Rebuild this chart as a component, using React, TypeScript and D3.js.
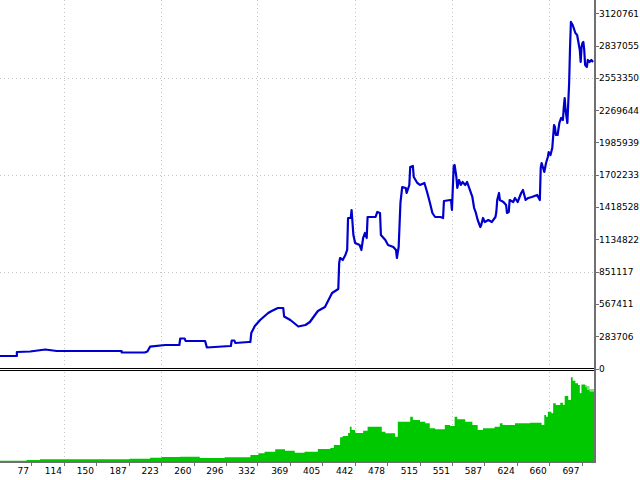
import React from "react";
import * as d3 from "d3";

// Equity curve: trade number -> equity
const tradeNo = [
  42, 61, 61, 76, 93, 106, 179, 179, 205, 208, 211, 228, 244, 245, 250, 251, 273, 275, 301, 302, 303, 306, 307, 322, 324,
  325, 329, 335, 344, 348, 355, 361, 362, 369, 378, 386, 391, 400, 408, 416, 423, 424, 425, 428, 431,
  433, 434, 437, 438, 440, 442, 447, 449, 451, 453, 455, 456, 465, 467, 470, 471, 476, 479, 485, 488,
  489, 491, 493, 495, 499, 500, 503, 504, 507, 508, 512, 515, 520, 523, 526, 529, 532, 538, 541, 542,
  549, 550, 551, 553, 554, 556, 557, 559, 561, 563, 566, 568, 570, 574, 576, 578, 580, 583, 584, 586,
  588, 592, 596, 600, 601, 602, 604, 605, 609, 612, 613, 615, 616, 620, 622, 625, 629, 631, 634, 637,
  641, 647, 650, 651, 652, 655, 657, 659, 660, 662, 664, 666, 667, 668, 670, 672, 674, 676, 677, 678,
  679, 681, 682, 683, 684, 685, 687, 690, 692, 693, 695, 696, 697, 698, 699, 700, 701, 703, 704, 706,
  708, 710,
];
const equity = [
  109800, 109800, 144900, 149300, 166900, 153700, 153700, 140500, 140500, 149300, 191500, 206400, 206400, 263500, 263500, 241600, 241600, 184500, 197600, 197600, 246000, 246000, 224000, 232800, 232800,
  311800, 373300, 426000, 487500, 505100, 531400, 531400, 456800, 426000, 368900, 382100, 408500, 505100, 540200, 663200, 698300, 926700, 970600, 953100, 997000,
  1040900, 1322000, 1322000, 1392300, 1172700, 1102400, 1084800, 1040900, 1146300, 1190200, 1146300, 1330800, 1330800, 1374700, 1365900, 1172700, 1128700, 1084800, 1067300, 1040900,
  970600, 1067300, 1453800, 1594300, 1585500, 1541600, 1611900, 1770000, 1778800, 1682100, 1629400, 1611900, 1629400, 1550400, 1462500, 1365900, 1330800, 1330800, 1322000, 1471300,
  1480100, 1480100, 1392300, 1778800, 1787500, 1682100, 1585500, 1655800, 1611900, 1638200, 1611900, 1638200, 1594300, 1506500, 1409800, 1365900, 1304400, 1242900, 1260500, 1322000,
  1286900, 1304400, 1286900, 1330800, 1374700, 1480100, 1541600, 1480100, 1462500, 1436100, 1365900, 1374700, 1480100, 1462500, 1497700, 1462500, 1541600, 1567900, 1480100, 1497700,
  1506500, 1524000, 1480100, 1761200, 1805100, 1726100, 1805100, 1857800, 1901700, 1875400, 1936900, 2138900, 2121300, 2051100, 2051100, 2156500, 2200400, 2182800, 2297000, 2376100,
  2270700, 2156500, 2332200, 2507800, 2815300, 3043700, 3017300, 2947000, 2929500, 2885500, 2797700, 2692300, 2824100, 2859200, 2868000, 2797700, 2665900, 2648400, 2709900, 2692300,
  2709900, 2692300,
];

// Lower panel (histogram) : trade number -> value
const loadTrade = [
  42, 72, 87, 115, 188, 211, 224, 245, 267, 295, 324, 333, 340, 352, 363, 374, 385, 400, 414, 418,
  425, 428, 434, 436, 438, 442, 451, 456, 472, 476, 487, 490, 504, 507, 515, 521, 526, 532, 543, 549,
  554, 557, 566, 574, 580, 586, 599, 605, 608, 622, 639, 652, 655, 657, 659, 663, 665, 668, 673, 676,
  678, 682, 685, 687, 690, 693, 695, 697, 701, 703, 706, 711,
];
const loadValue = [
  1.3, 2, 2.7, 2.7, 3.3, 4.3, 5, 5.3, 4, 4.7, 7, 8.7, 10.3, 12.7, 11.3, 9.3, 10.3, 13, 14, 17,
  24.7, 26, 29, 35.3, 32, 29, 31.3, 35.3, 30.3, 28.7, 25.3, 40.3, 45.3, 42, 40.3, 38.7, 33.7, 32.7, 37, 36,
  45.3, 42.7, 40.3, 37, 32, 33.7, 35.3, 38.7, 37, 38.7, 39.3, 37, 47, 45.3, 50.3, 48.7, 58.7, 57, 59.3, 57,
  66, 62, 84.7, 81.3, 78.7, 77, 68.7, 77, 74.7, 72, 70.3, 70.3,
];
const loadLightTrade = [695, 697, 701, 703, 706, 711];
const loadLightValue = [68.7, 78, 77, 76, 73, 73];

const xTickLabels = [77, 114, 150, 187, 223, 260, 296, 332, 369, 405, 442, 478, 515, 551, 587, 624, 660, 697];
const xGridTicks = [114, 223, 332, 442, 551, 660];
const yTickLabels = [0, 283706, 567411, 851117, 1134822, 1418528, 1702233, 1985939, 2269644, 2553350, 2837055, 3120761];
const yGridTicks = [851117, 1702233, 2553350];

export default function App() {
  const W = 640;
  const H = 480;
  const plotRight = 594;
  const mainBottom = 368.5;
  const lowTop = 371;
  const lowBottom = 462;

  const x = d3.scaleLinear().domain([42, 711]).range([0, plotRight]);
  const y = d3.scaleLinear().domain([0, 3120761]).range([mainBottom, 13.2]);
  const yl = d3.scaleLinear().domain([0, 91]).range([lowBottom, lowTop]);

  const line = d3
    .line<number>()
    .x((_, i) => x(tradeNo[i]))
    .y((d) => y(d));

  const area = (xs: number[]) =>
    d3
      .area<number>()
      .curve(d3.curveStepAfter)
      .x((_, i) => x(xs[i]))
      .y0(yl(0))
      .y1((d) => yl(d));

  const font = "'DejaVu Sans', sans-serif";

  return (
    <div style={{ position: "fixed", left: 0, top: 0, width: W, height: H, background: "#fff" }}>
      <svg width={W} height={H} style={{ display: "block" }}>
        <rect x={0} y={0} width={W} height={H} fill="#fff" />
        {/* grid */}
        <g stroke="#c4c4c4" strokeWidth={1} strokeDasharray="1,3" shapeRendering="crispEdges">
          {yGridTicks.map((v) => (
            <line key={"hy" + v} x1={0} x2={plotRight} y1={Math.round(y(v)) + 0.5} y2={Math.round(y(v)) + 0.5} />
          ))}
          {xGridTicks.map((v) => (
            <g key={"vx" + v}>
              <line x1={Math.round(x(v)) + 0.5} x2={Math.round(x(v)) + 0.5} y1={0} y2={mainBottom - 1} />
              <line x1={Math.round(x(v)) + 0.5} x2={Math.round(x(v)) + 0.5} y1={lowTop + 1} y2={lowBottom} />
            </g>
          ))}
        </g>

        {/* lower panel histogram */}
        <path d={area(loadLightTrade)(loadLightValue) || ""} fill="#7fe07f" />
        <path d={area(loadTrade)(loadValue) || ""} fill="#00c800" />

        {/* equity line */}
        <path d={line(equity) || ""} fill="none" stroke="#0000cd" strokeWidth={2.2} strokeLinejoin="round" />

        {/* panel separator */}
        <g stroke="#000" strokeWidth={1} shapeRendering="crispEdges">
          <line x1={0} x2={plotRight + 1} y1={368.5} y2={368.5} />
          <line x1={0} x2={plotRight + 1} y1={370.5} y2={370.5} />
        </g>

        {/* axes */}
        <g stroke="#707070" shapeRendering="crispEdges">
          <line x1={595} x2={595} y1={0} y2={lowBottom + 1} strokeWidth={2} />
          <line x1={0} x2={596} y1={lowBottom} y2={lowBottom} strokeWidth={2} />
          {yTickLabels.map((v) => (
            <line key={"ty" + v} x1={596} x2={599} y1={Math.round(y(v)) + 0.5} y2={Math.round(y(v)) + 0.5} strokeWidth={1} />
          ))}
          {xTickLabels.map((v) => (
            <line key={"tx" + v} x1={Math.round(x(v)) + 0.5} x2={Math.round(x(v)) + 0.5} y1={lowBottom} y2={lowBottom + 4} strokeWidth={1} />
          ))}
        </g>

        <g fontFamily={font} fontSize={9} fill="#000">
          {yTickLabels.map((v) => (
            <text key={"ly" + v} x={599} y={y(v) + 3.5}>
              {String(v)}
            </text>
          ))}
          {xTickLabels.map((v) => (
            <text key={"lx" + v} x={x(v) - 2} y={474} textAnchor="end">
              {String(v)}
            </text>
          ))}
        </g>
      </svg>
    </div>
  );
}
